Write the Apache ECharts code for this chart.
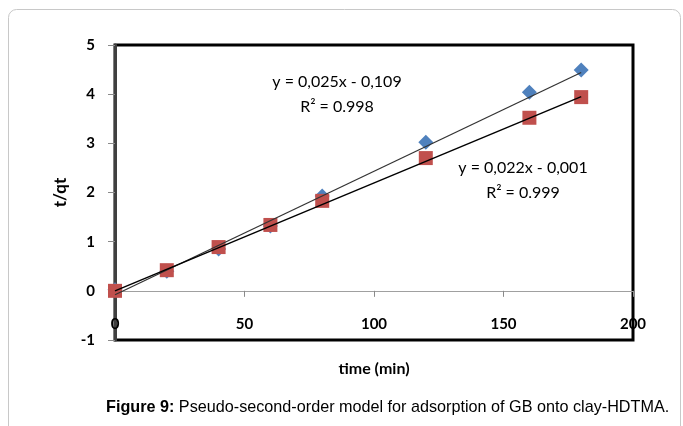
<!DOCTYPE html>
<html>
<head>
<meta charset="utf-8">
<script src="https://cdn.jsdelivr.net/npm/echarts@6/dist/echarts.min.js"></script>
<style>html,body{margin:0;padding:0;background:#fff;}#chart{width:683px;height:426px;}</style>
</head>
<body>
<div id="chart"></div>
<script>
// Data
var timeTicks = [0, 50, 100, 150, 200];
var tqTicks = [-1, 0, 1, 2, 3, 4, 5];
var blueTime = [0, 20, 40, 60, 80, 120, 160, 180];
var blueTq   = [0.02, 0.40, 0.85, 1.32, 1.93, 3.02, 4.04, 4.49];
var redTime  = [0, 20, 40, 60, 80, 120, 160, 180];
var redTq    = [0.00, 0.42, 0.89, 1.34, 1.83, 2.70, 3.52, 3.94];
// Trendline end points (as drawn in the picture)
var blueTrendTime = [0, 180];
var blueTrendTq   = [-0.08, 4.44];
var redTrendTime  = [0, 180];
var redTrendTq    = [0.00, 3.95];
var blueEq = ['y = 0,025x - 0,109', 'R² = 0.998'];
var redEq  = ['y = 0,022x - 0,001', 'R² = 0.999'];
var captionBold = 'Figure 9:';
var captionText = ' Pseudo-second-order model for adsorption of GB onto clay-HDTMA.';
var xName = 'time (min)';
var yName = 't/qt';

function pairs(xs, ys) { return xs.map(function (x, i) { return [x, ys[i]]; }); }

var calib = 'Lato, "Open Sans", sans-serif';
var chart = echarts.init(document.getElementById('chart'), null, {renderer: 'canvas'});
chart.setOption({
  animation: false,
  backgroundColor: '#fff',
  grid: {left: 115, right: 50, top: 45, bottom: 86, show: true, borderColor: '#000', borderWidth: 3,
         backgroundColor: 'transparent', containLabel: false, outerBoundsMode: 'none'},
  xAxis: {
    type: 'value', min: timeTicks[0], max: timeTicks[timeTicks.length - 1], interval: 50,
    name: xName, nameLocation: 'middle', nameGap: 21,
    nameTextStyle: {fontFamily: calib, fontWeight: 'bold', fontSize: 16, color: '#000', verticalAlign: 'top'},
    axisLine: {show: true, onZero: true, lineStyle: {color: '#a0a0a0', width: 1}},
    axisTick: {show: true, length: 6, lineStyle: {color: '#8a8a8a'}},
    axisLabel: {margin: -23, fontFamily: calib, fontWeight: 'bold', fontSize: 15, color: '#000', verticalAlign: 'top'},
    splitLine: {show: false}
  },
  yAxis: {
    type: 'value', min: tqTicks[0], max: tqTicks[tqTicks.length - 1], interval: 1,
    name: yName, nameLocation: 'middle', nameGap: 46, nameRotate: 90,
    nameTextStyle: {fontFamily: calib, fontWeight: 'bold', fontSize: 17, color: '#000'},
    axisLine: {show: true, lineStyle: {color: '#404040', width: 3}},
    axisTick: {show: true, length: 7, lineStyle: {color: '#8a8a8a'}},
    axisLabel: {margin: 20, fontFamily: calib, fontWeight: 'bold', fontSize: 15, color: '#000'},
    splitLine: {show: false}
  },
  series: [
    {type: 'scatter', data: pairs(blueTime, blueTq), symbol: 'diamond', symbolSize: 15,
     itemStyle: {color: '#4F81BD', opacity: 1}, z: 2},
    {type: 'scatter', data: pairs(redTime, redTq), symbol: 'rect', symbolSize: 14,
     itemStyle: {color: '#C0504D', opacity: 1}, z: 3},
    {type: 'line', data: pairs(blueTrendTime, blueTrendTq), showSymbol: false, symbol: 'none',
     lineStyle: {color: '#333', width: 1.3}, z: 5, silent: true},
    {type: 'line', data: pairs(redTrendTime, redTrendTq), showSymbol: false, symbol: 'none',
     lineStyle: {color: '#000', width: 1.5}, z: 5, silent: true}
  ],
  graphic: [
    {type: 'rect', shape: {x: 8.5, y: 9.5, width: 672, height: 460, r: 8}, style: {fill: 'none', stroke: '#c8c8c8', lineWidth: 1}, z: -1},
    {type: 'text', x: 337, y: 82, style: {text: blueEq[0], font: '16px ' + calib, fill: '#000', textAlign: 'center', textVerticalAlign: 'middle'}},
    {type: 'text', x: 337, y: 107, style: {text: blueEq[1], font: '16px ' + calib, fill: '#000', textAlign: 'center', textVerticalAlign: 'middle'}},
    {type: 'text', x: 523, y: 168, style: {text: redEq[0], font: '16px ' + calib, fill: '#000', textAlign: 'center', textVerticalAlign: 'middle'}},
    {type: 'text', x: 523, y: 193, style: {text: redEq[1], font: '16px ' + calib, fill: '#000', textAlign: 'center', textVerticalAlign: 'middle'}},
    {type: 'text', x: 106, y: 408, style: {
      text: '{b|' + captionBold + '}{n|' + captionText + '}',
      textVerticalAlign: 'middle',
      rich: {
        b: {fontFamily: '"Liberation Sans", Arial, sans-serif', fontWeight: 'bold', fontSize: 16.2, fill: '#000'},
        n: {fontFamily: '"Liberation Sans", Arial, sans-serif', fontSize: 16.2, fill: '#000'}
      }
    }}
  ]
});
</script>
</body>
</html>
